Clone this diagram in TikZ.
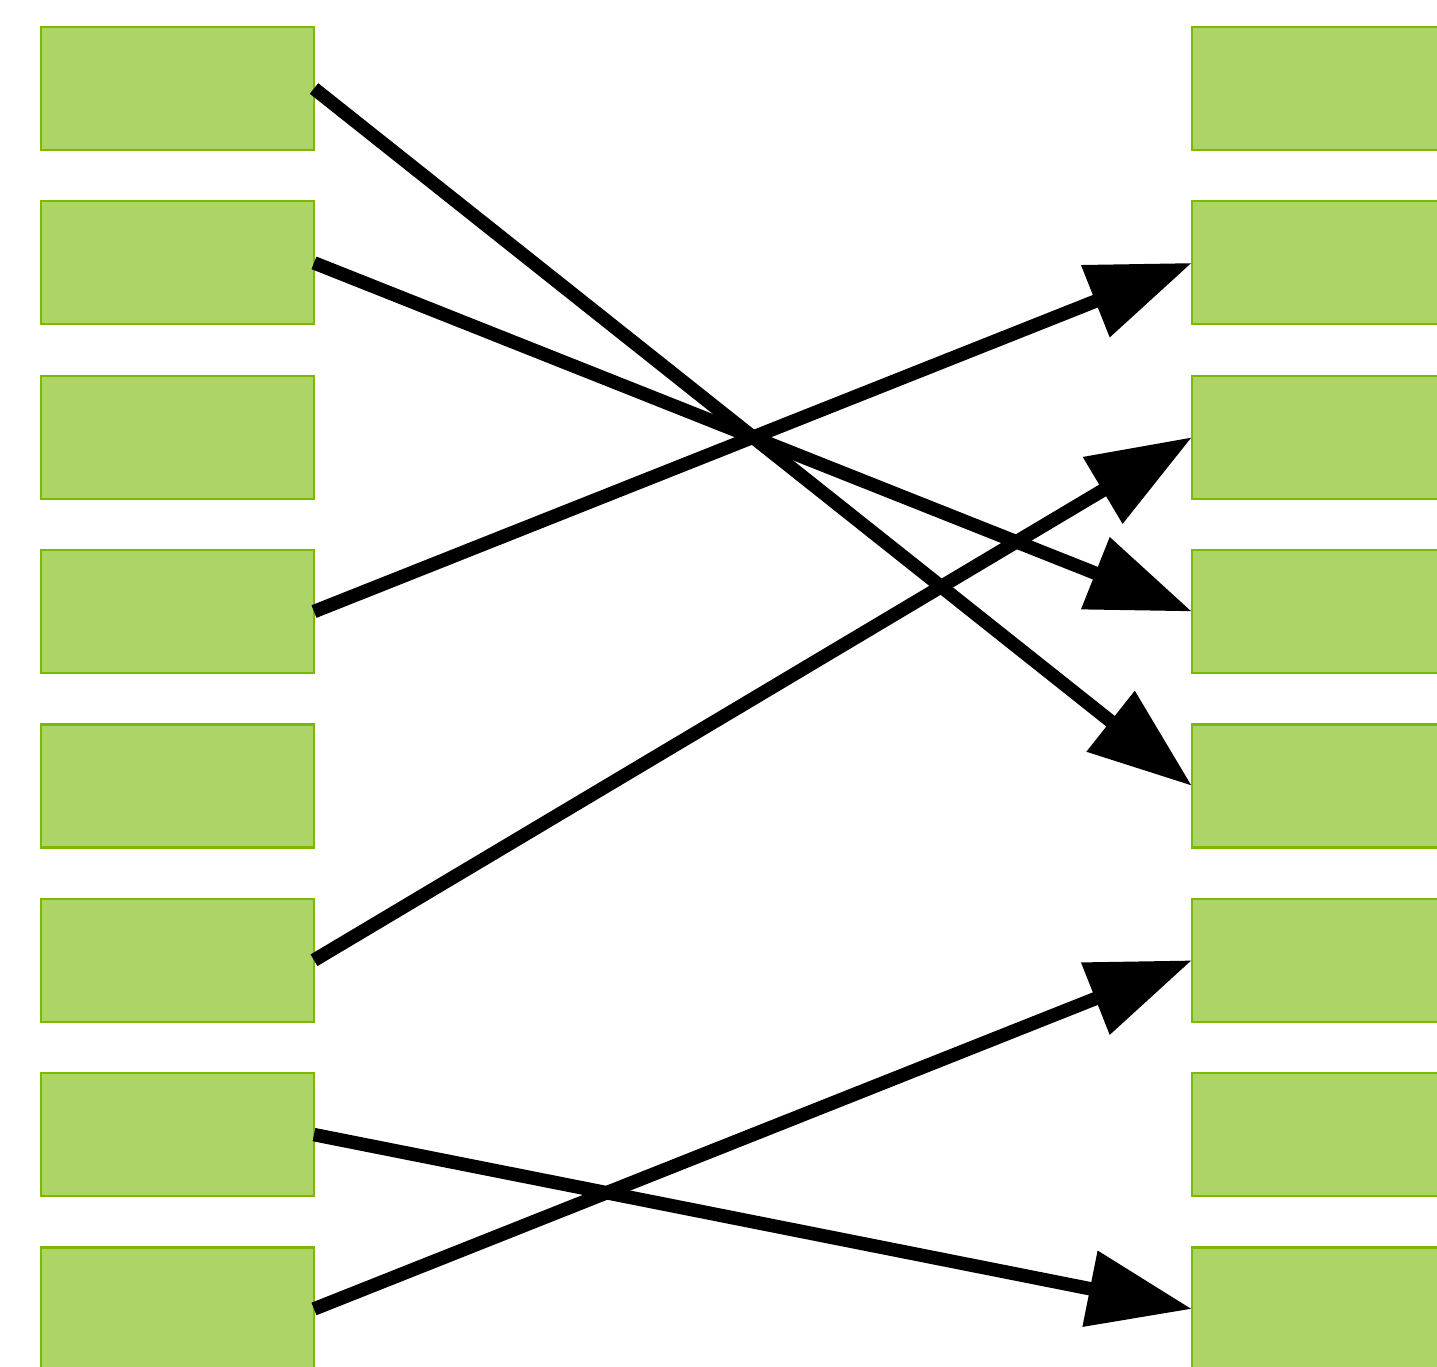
\documentclass[tikz,border=0pt]{standalone}
\usetikzlibrary{arrows.meta}
\definecolor{boxfill}{HTML}{ADD466}
\definecolor{boxedge}{HTML}{7BBA00}
\begin{document}
\begin{tikzpicture}[x=1pt,y=-1pt,
  cell/.style={draw=boxedge, fill=boxfill, line width=2.2pt, minimum width=273pt, minimum height=123pt, inner sep=0pt, outer sep=0pt, anchor=north west},
  arr/.style={line width=13.5pt, -{Triangle[length=104pt,width=74pt]}}]
\useasboundingbox (0,0) rectangle (1437,1367);
\clip (0,0) rectangle (1437,1367);
\foreach \i in {1,...,8}{
  \node[cell] (L\i) at (41,{27+174.35*(\i-1)}) {};
  \node[cell] (R\i) at (1192,{27+174.35*(\i-1)}) {};
}
\draw[arr] (L1.east) -- (R5.west);
\draw[arr] (L2.east) -- (R4.west);
\draw[arr] (L4.east) -- (R2.west);
\draw[arr] (L6.east) -- (R3.west);
\draw[arr] (L7.east) -- (R8.west);
\draw[arr] (L8.east) -- (R6.west);
\end{tikzpicture}
\end{document}
